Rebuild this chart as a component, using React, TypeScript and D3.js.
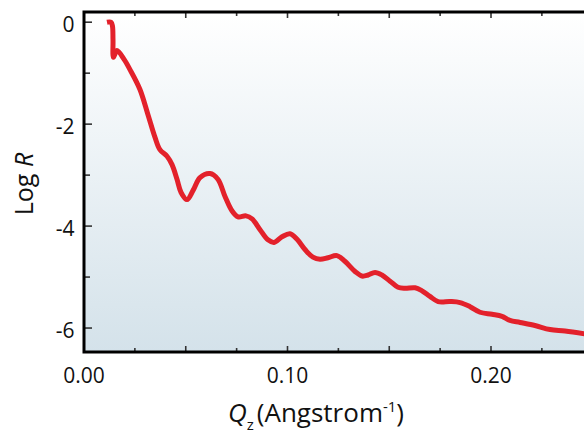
import React from 'react';
import * as d3 from 'd3';

// Reflectivity curve
const qValues = [
  0.0113, 0.0133, 0.0140, 0.01425, 0.0145, 0.0162, 0.0197, 0.0226, 0.0275, 0.0314,
  0.0349, 0.0373, 0.0408, 0.0432, 0.0457, 0.0477, 0.0506, 0.0536, 0.0570, 0.0619,
  0.0658, 0.0693, 0.0727, 0.0757, 0.0796, 0.0826, 0.0865, 0.0904, 0.0934, 0.0973,
  0.1012, 0.1047, 0.1086, 0.1125, 0.1160, 0.1199, 0.1243, 0.1282, 0.1332, 0.1366,
  0.1396, 0.1430, 0.1464, 0.1504, 0.1543, 0.1577, 0.1627, 0.1661, 0.1700, 0.1740,
  0.1799, 0.1848, 0.1897, 0.1946, 0.2005, 0.2054, 0.2093, 0.2143, 0.2216, 0.2290,
  0.2364, 0.2467,
];
const logRValues = [
  0, 0, -0.08, -0.34, -0.69, -0.555, -0.73, -0.93, -1.32, -1.81,
  -2.26, -2.50, -2.63, -2.79, -3.08, -3.34, -3.48, -3.30, -3.05, -2.97,
  -3.08, -3.42, -3.70, -3.82, -3.80, -3.86, -4.07, -4.27, -4.32, -4.21,
  -4.15, -4.26, -4.46, -4.61, -4.65, -4.62, -4.58, -4.69, -4.89, -4.98,
  -4.96, -4.91, -4.96, -5.08, -5.20, -5.22, -5.21, -5.27, -5.38, -5.48,
  -5.48, -5.50, -5.58, -5.69, -5.73, -5.77, -5.85, -5.89, -5.95, -6.03,
  -6.06, -6.12,
];

const xTickValues = [0, 0.1, 0.2];
const xTickLabels = ['0.00', '0.10', '0.20'];
const yTickValues = [0, -2, -4, -6];
const yTickLabels = ['0', '-2', '-4', '-6'];

const W = 584;
const H = 433;
const plot = { left: 84, top: 12, right: 592.75, bottom: 352 };
const FONT = "'Open Sans', 'Noto Sans', sans-serif";

export default function App() {
  const x = d3.scaleLinear().domain([0, 0.25]).range([plot.left, plot.right]);
  const y = d3.scaleLinear().domain([-6.47, 0.2]).range([plot.bottom, plot.top]);

  const points = qValues.map((q, i) => [q, logRValues[i]] as [number, number]);
  const line = d3
    .line<[number, number]>()
    .x((d) => x(d[0]))
    .y((d) => y(d[1]))
    .curve(d3.curveCatmullRom.alpha(0.5));

  // minor/major ticks
  const xTicks = d3.range(0, 0.2501, 0.025);
  const yTicks = d3.range(-6, 0.01, 1);

  return (
    <svg
      width={W}
      height={H}
      style={{ position: 'absolute', left: 0, top: 0, display: 'block', background: '#fff' }}
    >
      <defs>
        <linearGradient id="bg" x1="0" y1="0" x2="0" y2="1">
          <stop offset="0" stopColor="#ffffff" />
          <stop offset="1" stopColor="#d4e2ea" />
        </linearGradient>
        <clipPath id="clip">
          <rect x={plot.left} y={plot.top} width={plot.right - plot.left} height={plot.bottom - plot.top} />
        </clipPath>
      </defs>

      <rect
        x={plot.left}
        y={plot.top}
        width={plot.right - plot.left}
        height={plot.bottom - plot.top}
        fill="url(#bg)"
      />

      {/* x ticks, bottom and top */}
      {xTicks.map((t, i) => {
        const major = i % 2 === 0;
        const len = major ? 6 : 4;
        return (
          <g key={'xt' + i} stroke="#333" strokeWidth={1.6}>
            <line x1={x(t)} x2={x(t)} y1={plot.bottom} y2={plot.bottom - len} />
            <line x1={x(t)} x2={x(t)} y1={plot.top} y2={plot.top + len} />
          </g>
        );
      })}
      {/* y ticks, left and right */}
      {yTicks.map((t, i) => {
        const major = Math.round(t) % 2 === 0;
        const len = major ? 8 : 6;
        return (
          <g key={'yt' + i} stroke="#333" strokeWidth={1.6}>
            <line x1={plot.left} x2={plot.left + len} y1={y(t)} y2={y(t)} />
            <line x1={plot.right} x2={plot.right - len} y1={y(t)} y2={y(t)} />
          </g>
        );
      })}

      <path
        d={line(points) || ''}
        fill="none"
        stroke="#e3212b"
        strokeWidth={5}
        strokeLinejoin="round"
        strokeLinecap="butt"
        clipPath="url(#clip)"
      />

      {/* frame */}
      <rect
        x={plot.left}
        y={plot.top}
        width={plot.right - plot.left}
        height={plot.bottom - plot.top}
        fill="none"
        stroke="#000"
        strokeWidth={3}
      />

      {/* tick labels */}
      {xTickValues.map((t, i) => (
        <text key={'xl' + i} x={x(t)} y={383} textAnchor="middle" fontFamily={FONT} fontSize={21} fill="#111">
          {xTickLabels[i]}
        </text>
      ))}
      {yTickValues.map((t, i) => (
        <text key={'yl' + i} x={74.5} y={y(t) + 9.5} textAnchor="end" fontFamily={FONT} fontSize={21} fill="#111">
          {yTickLabels[i]}
        </text>
      ))}

      {/* axis titles */}
      <text x={228} y={422} textAnchor="start" fontFamily={FONT} fontSize={26} fill="#111">
        <tspan fontStyle="italic">Q</tspan>
        <tspan fontSize={15} dy={8}>z</tspan>
        <tspan dy={-8} dx={3}>(Angstrom</tspan>
        <tspan fontSize={15} dy={-10}>-1</tspan>
        <tspan dy={10}>)</tspan>
      </text>
      <text
        transform="translate(33,184) rotate(-90)"
        textAnchor="middle"
        fontFamily={FONT}
        fontSize={25}
        fill="#111"
      >
        Log <tspan fontStyle="italic">R</tspan>
      </text>
    </svg>
  );
}
